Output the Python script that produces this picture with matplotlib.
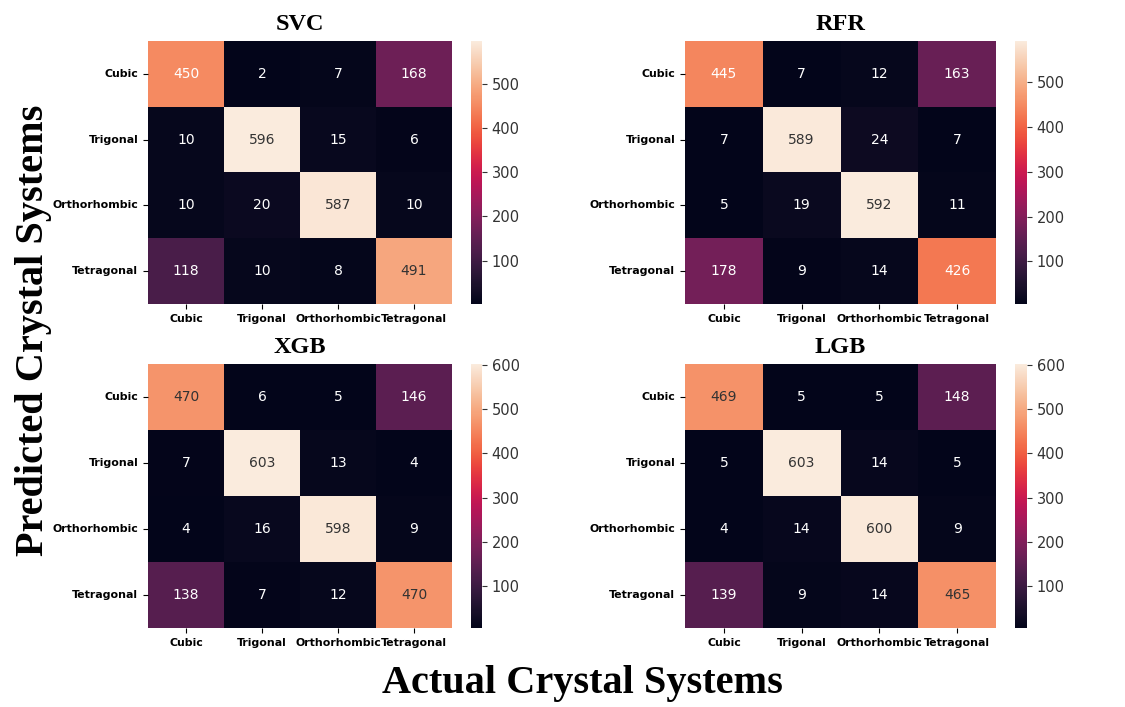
import numpy as np
import matplotlib
matplotlib.use("Agg")
import matplotlib.pyplot as plt
import seaborn as sns

classes = ["Cubic", "Trigonal", "Orthorhombic", "Tetragonal"]
model_names = ["SVC", "RFR", "XGB", "LGB"]

svc_cm = [[450, 2, 7, 168],
          [10, 596, 15, 6],
          [10, 20, 587, 10],
          [118, 10, 8, 491]]
rfr_cm = [[445, 7, 12, 163],
          [7, 589, 24, 7],
          [5, 19, 592, 11],
          [178, 9, 14, 426]]
xgb_cm = [[470, 6, 5, 146],
          [7, 603, 13, 4],
          [4, 16, 598, 9],
          [138, 7, 12, 470]]
lgb_cm = [[469, 5, 5, 148],
          [5, 603, 14, 5],
          [4, 14, 600, 9],
          [139, 9, 14, 465]]
matrices = [svc_cm, rfr_cm, xgb_cm, lgb_cm]

W, H = 1125, 707
fig = plt.figure(figsize=(W / 100, H / 100), dpi=100)

def box(x0, y0, x1, y1):
    # pixel box (top-left origin) -> figure fraction rect
    return [x0 / W, 1 - y1 / H, (x1 - x0) / W, (y1 - y0) / H]

# heatmap and colorbar boxes in pixels
hm_boxes = [(148, 41, 452, 304), (685, 41, 996, 304),
            (148, 364, 452, 628), (685, 364, 996, 628)]
cb_boxes = [(471, 41, 482, 304), (1015, 41, 1027, 304),
            (471, 364, 482, 628), (1015, 364, 1027, 628)]

serif = ["Liberation Serif", "DejaVu Serif"]

for name, cm, hb, cb in zip(model_names, matrices, hm_boxes, cb_boxes):
    cm = np.array(cm)
    ax = fig.add_axes(box(*hb))
    cax = fig.add_axes(box(*cb))
    sns.heatmap(cm, annot=True, fmt="d", cmap="rocket", ax=ax,
                cbar_ax=cax, xticklabels=classes, yticklabels=classes,
                annot_kws={"size": 10})
    # annotation colour: dark text on the light cells
    lo, hi = cm.min(), cm.max()
    for txt, v in zip(ax.texts, cm.ravel()):
        txt.set_color("0.2" if (v - lo) / (hi - lo) > 0.76 else "white")
    ax.set_title(name, fontsize=17.5, fontweight="bold", family=serif, pad=8)
    ax.tick_params(axis="both", labelsize=7.9)
    for t in ax.get_xticklabels() + ax.get_yticklabels():
        t.set_fontweight("bold")
    plt.setp(ax.get_yticklabels(), rotation=0)
    plt.setp(ax.get_xticklabels(), rotation=0)
    cax.tick_params(labelsize=10.5, colors="0.2")

fig.text(34 / W, 1 - 330 / H, "Predicted Crystal Systems", rotation=90,
         ha="center", va="center", fontsize=29, fontweight="bold", family=serif)
fig.text(582 / W, 1 - 684 / H, "Actual Crystal Systems",
         ha="center", va="center", fontsize=29, fontweight="bold", family=serif)

fig.savefig("out.png", dpi=100)
